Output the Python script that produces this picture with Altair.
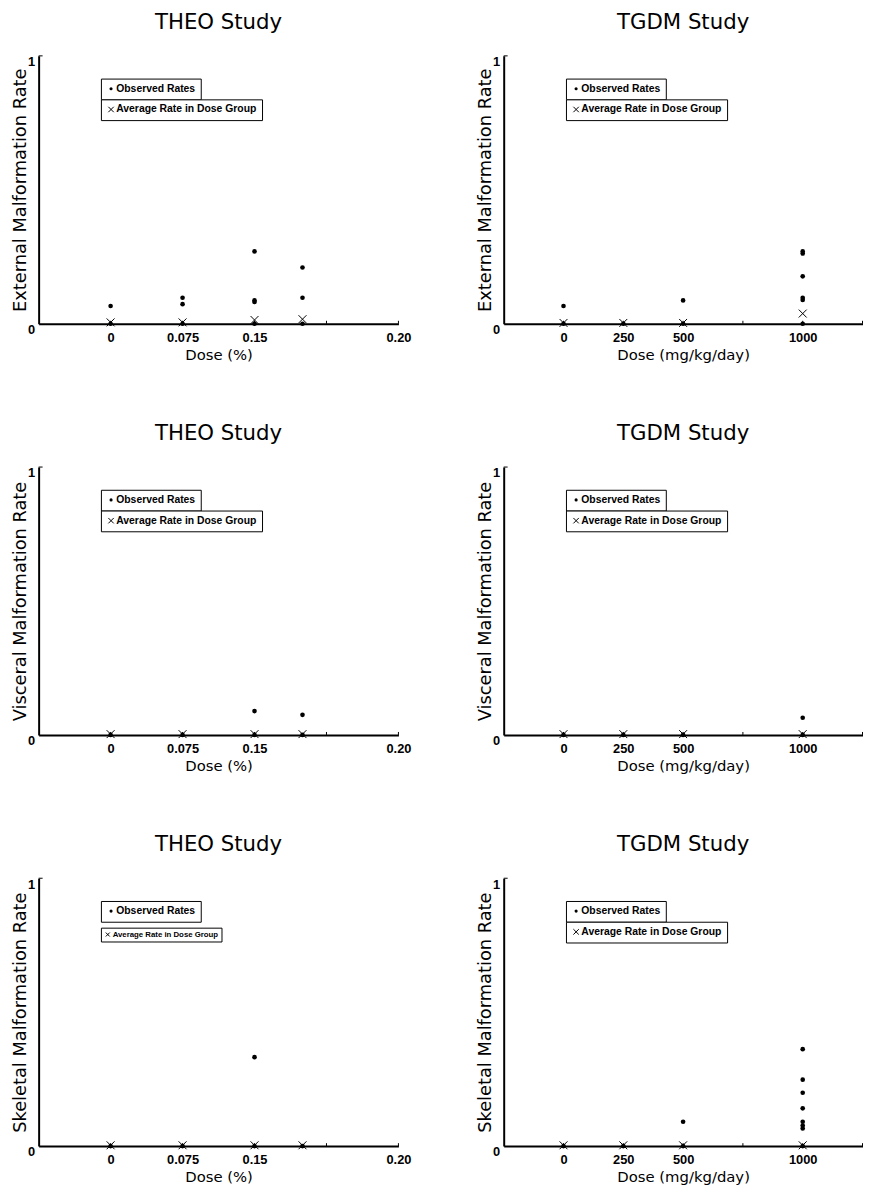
import altair as alt
import pandas as pd

# ---------------- data ----------------
THEO_DOSES = [0, 0.075, 0.15, 0.20]
TGDM_DOSES = [0, 250, 500, 1000]

THEO_EXT_OBS = [[0.066, 0.0], [0.097, 0.073, 0.0], [0.27, 0.087, 0.081, 0.0], [0.21, 0.097, 0.0]]
THEO_EXT_AVG = [0.005, 0.005, 0.014, 0.017]
TGDM_EXT_OBS = [[0.066, 0.0], [0.0], [0.087, 0.0], [0.27, 0.262, 0.177, 0.097, 0.089, 0.0]]
TGDM_EXT_AVG = [0.003, 0.003, 0.003, 0.038]

THEO_VIS_OBS = [[0.0], [0.0], [0.089, 0.0], [0.075, 0.0]]
THEO_VIS_AVG = [0.003, 0.003, 0.003, 0.003]
TGDM_VIS_OBS = [[0.0], [0.0], [0.0], [0.064, 0.0]]
TGDM_VIS_AVG = [0.003, 0.003, 0.003, 0.003]

THEO_SKL_OBS = [[0.0], [0.0], [0.332, 0.0], [0.0]]
THEO_SKL_AVG = [0.003, 0.003, 0.003, 0.003]
TGDM_SKL_OBS = [[0.0], [0.0], [0.091, 0.0], [0.362, 0.248, 0.199, 0.141, 0.091, 0.077, 0.066, 0.0]]
TGDM_SKL_AVG = [0.003, 0.003, 0.003, 0.003]

THEO_DOMAIN = [-0.075, 0.30]
TGDM_DOMAIN = [-250, 1250]
THEO_TICKS = [0, 0.075, 0.15, 0.225, 0.30]
THEO_TICK_LABELS = ["0", "0.075", "0.15", "", "0.20"]
TGDM_TICKS = [0, 250, 500, 750, 1000, 1250]
TGDM_TICK_LABELS = ["0", "250", "500", "", "1000", ""]

Y_TICKS = [0, 1]
SERIES = ["Observed Rates", "Average Rate in Dose Group"]
TITLES = ["THEO Study", "TGDM Study"]
X_TITLES = ["Dose (%)", "Dose (mg/kg/day)"]
Y_TITLES = ["External Malformation Rate", "Visceral Malformation Rate", "Skeletal Malformation Rate"]

CROSS = "M-1,-1L1,1M-1,1L1,-1"
FONT = "DejaVu Sans"
LFONT = "Liberation Sans"
PH = 271


def label_expr(vals, labels):
    expr = "''"
    for v, l in reversed(list(zip(vals, labels))):
        expr = f"abs(datum.value - ({v})) < 1e-9 ? '{l}' : ({expr})"
    return expr


def panel(doses, obs, avg, domain, ticks, tick_labels, title, xtitle, ytitle, width,
          avg_font=10.5, avg_legend_y=44, avg_pad=5, avg_sym=30, avg_off=0):
    obs_df = pd.DataFrame([{"dose": d, "rate": r, "series": SERIES[0]}
                           for d, rs in zip(doses, obs) for r in rs])
    avg_df = pd.DataFrame({"dose": doses, "rate": avg, "series": [SERIES[1]] * len(doses)})
    tick_df = pd.DataFrame({"tick": ticks})
    one_df = pd.DataFrame({"k": [1]})

    xs = alt.Scale(domain=domain, nice=False, zero=False)
    ys = alt.Scale(domain=[0, 1], nice=False, zero=False)
    xaxis = alt.Axis(values=ticks, labelExpr=label_expr(ticks, tick_labels), ticks=False, grid=False,
                     domainWidth=2, domainColor="black", labelFont=LFONT, labelFontSize=13,
                     labelFontWeight="bold", labelColor="black", labelPadding=8, labelFlush=False,
                     title=xtitle, titleFont=FONT, titleFontSize=15, titleFontWeight="normal",
                     titleColor="black", titlePadding=3)
    yaxis = alt.Axis(values=Y_TICKS, format="d", ticks=False, grid=False, domainWidth=2,
                     domainColor="black", labelFont=LFONT, labelFontSize=13, labelFontWeight="bold",
                     labelColor="black", labelBaseline="top", labelPadding=4, labelFlush=False,
                     title=ytitle, titleFont=FONT, titleFontSize=18, titleFontWeight="normal",
                     titleColor="black", titlePadding=-2)

    span = domain[1] - domain[0]
    tick_layer = alt.Chart(tick_df).mark_rule(color="black", strokeWidth=1).encode(
        x=alt.X("tick:Q", scale=xs, axis=xaxis),
        y=alt.datum(0, scale=ys),
        y2=alt.datum(0.011),
    )
    ytick_layer = alt.Chart(one_df).mark_rule(color="black", strokeWidth=1).encode(
        x=alt.datum(domain[0], scale=xs),
        x2=alt.datum(domain[0] + 0.011 * span),
        y=alt.datum(1, scale=ys),
    )
    obs_layer = alt.Chart(obs_df).mark_point(filled=True, color="black", size=22, opacity=1).encode(
        x=alt.X("dose:Q", scale=xs, axis=xaxis),
        y=alt.Y("rate:Q", scale=ys, axis=yaxis),
        shape=alt.Shape("series:N", scale=alt.Scale(domain=[SERIES[0]], range=["circle"]),
                        legend=alt.Legend(title=None, orient="none", legendX=63, legendY=23,
                                          strokeColor="black", fillColor="white", padding=5,
                                          labelFont=LFONT, labelFontSize=10.5, labelFontWeight="bold",
                                          labelColor="black", symbolSize=10, labelOffset=0)),
    )
    avg_layer = alt.Chart(avg_df).mark_point(filled=False, color="black", size=64, strokeWidth=1,
                                             opacity=1).encode(
        x=alt.X("dose:Q", scale=xs, axis=xaxis),
        y=alt.Y("rate:Q", scale=ys, axis=yaxis),
        shape=alt.Shape("series:N", scale=alt.Scale(domain=[SERIES[1]], range=[CROSS]),
                        legend=alt.Legend(title=None, orient="none", legendX=63, legendY=avg_legend_y,
                                          strokeColor="black", fillColor="white", padding=avg_pad,
                                          labelFont=LFONT, labelFontSize=avg_font,
                                          labelFontWeight="bold", labelColor="black",
                                          symbolSize=avg_sym, symbolStrokeWidth=1,
                                          labelOffset=avg_off)),
    )
    return alt.layer(tick_layer, ytick_layer, obs_layer, avg_layer).resolve_scale(
        shape="independent"
    ).properties(
        width=width, height=PH,
        title=alt.TitleParams(title, font=FONT, fontSize=21.5, fontWeight="normal", color="black",
                              anchor="middle", offset=22.5),
    )


rows_spec = [
    (THEO_EXT_OBS, THEO_EXT_AVG, TGDM_EXT_OBS, TGDM_EXT_AVG, {}),
    (THEO_VIS_OBS, THEO_VIS_AVG, TGDM_VIS_OBS, TGDM_VIS_AVG, {}),
    (THEO_SKL_OBS, THEO_SKL_AVG, TGDM_SKL_OBS, TGDM_SKL_AVG,
     {"avg_font": 7.9, "avg_legend_y": 50, "avg_pad": 3, "avg_sym": 16, "avg_off": 1}),
]

rows = []
for i, (to, ta, go, ga, extra) in enumerate(rows_spec):
    left = panel(THEO_DOSES, to, ta, THEO_DOMAIN, THEO_TICKS, THEO_TICK_LABELS, TITLES[0],
                 X_TITLES[0], Y_TITLES[i], 364, **extra)
    right = panel(TGDM_DOSES, go, ga, TGDM_DOMAIN, TGDM_TICKS, TGDM_TICK_LABELS, TITLES[1],
                  X_TITLES[1], Y_TITLES[i], 363)
    rows.append(alt.hconcat(left, right, spacing=65.5))

chart = alt.vconcat(*rows, spacing=61).properties(
    padding={"left": 3, "top": -3.5, "right": 0, "bottom": 0}, background="white"
).configure_view(stroke=None)

chart.save("out.html", embed_options={"renderer": "svg", "actions": False})
